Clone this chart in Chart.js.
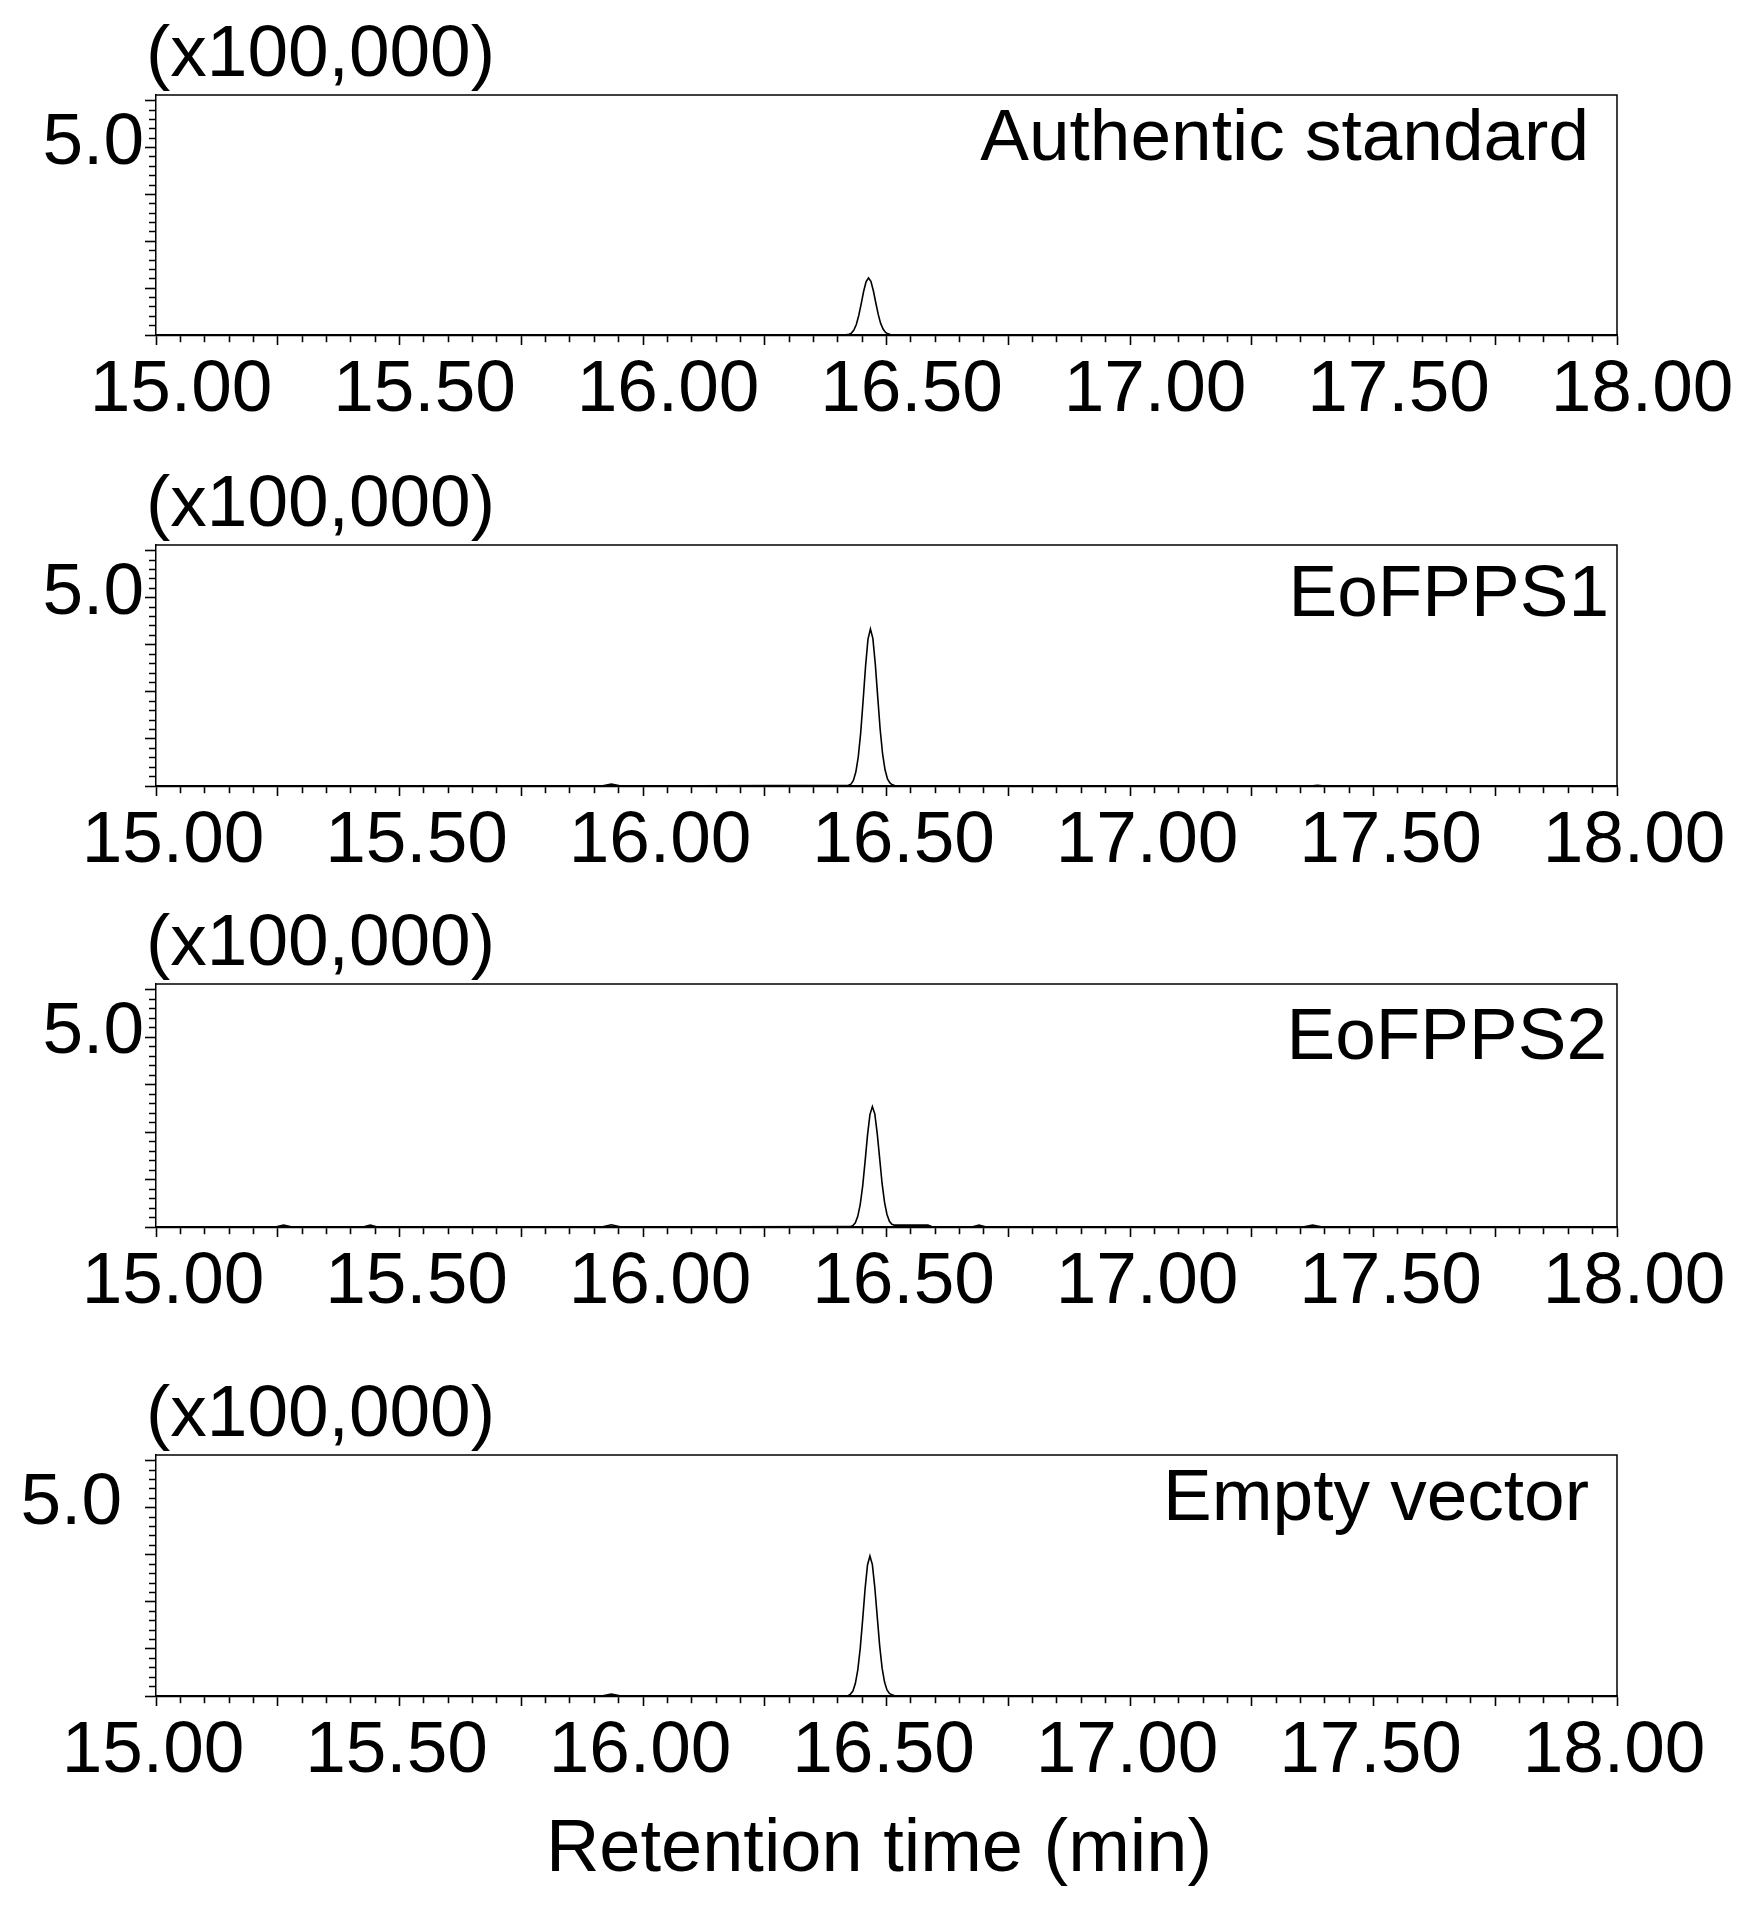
<!DOCTYPE html>
<html>
<head>
<meta charset="utf-8">
<title>Retention time chromatograms</title>
<script src="https://cdn.jsdelivr.net/npm/chart.js@4.4.1/dist/chart.umd.min.js"></script>
<style>
  html, body { margin: 0; padding: 0; background: #fff; }
  body { width: 1753px; height: 1909px; position: relative; overflow: hidden; }
  canvas { position: absolute; left: 0; }
</style>
</head>
<body>
<canvas id="chart1" width="1753" height="440" style="top:0px"></canvas>
<canvas id="chart2" width="1753" height="440" style="top:450px"></canvas>
<canvas id="chart3" width="1753" height="440" style="top:889px"></canvas>
<canvas id="chart4" width="1753" height="549" style="top:1360px"></canvas>
<script>
// values: retention time (min), signal (x100,000)
var sampleNames = ['Authentic standard', 'EoFPPS1', 'EoFPPS2', 'Empty vector'];
var unitLabel = '(x100,000)';
var xTitle = 'Retention time (min)';

var standardTime = [15.00, 16.418, 16.423, 16.428, 16.433, 16.438, 16.443, 16.448, 16.453, 16.458, 16.463,
	16.468, 16.473, 16.478, 16.483, 16.488, 16.493, 16.498, 16.503, 16.508, 16.513, 18.00];
var standardSignal = [0, 0.01, 0.02, 0.05, 0.13, 0.28, 0.52, 0.83, 1.16, 1.42, 1.52,
	1.43, 1.18, 0.86, 0.55, 0.31, 0.16, 0.07, 0.03, 0.01, 0, 0];

var fpps1Time = [15.00, 15.915, 15.935, 15.955,
	16.422, 16.427, 16.432, 16.437, 16.442, 16.447, 16.452, 16.457, 16.462, 16.467,
	16.472, 16.477, 16.482, 16.487, 16.492, 16.497, 16.502, 16.507, 16.512, 16.517,
	17.37, 17.385, 17.40, 18.00];
var fpps1Signal = [0, 0, 0.05, 0,
	0.02, 0.05, 0.15, 0.37, 0.77, 1.41, 2.27, 3.18, 3.90, 4.17,
	3.92, 3.24, 2.36, 1.50, 0.85, 0.43, 0.19, 0.08, 0.03, 0.01,
	0, 0.02, 0, 0];

var fpps2Time = [15.00, 15.245, 15.262, 15.28, 15.425, 15.44, 15.455, 15.915, 15.935, 15.955,
	16.426, 16.431, 16.436, 16.441, 16.446, 16.451, 16.456, 16.461, 16.466, 16.471,
	16.476, 16.481, 16.486, 16.491, 16.496, 16.501, 16.506, 16.511, 16.516, 16.521,
	16.585, 16.595, 16.675, 16.69, 16.705, 17.355, 17.375, 17.395, 18.00];
var fpps2Signal = [0, 0, 0.05, 0, 0, 0.05, 0, 0, 0.06, 0,
	0.01, 0.04, 0.11, 0.28, 0.59, 1.07, 1.72, 2.42, 2.96, 3.17,
	2.98, 2.46, 1.80, 1.14, 0.65, 0.33, 0.15, 0.07, 0.05, 0.05,
	0.05, 0, 0, 0.05, 0, 0, 0.05, 0, 0];

var emptyTime = [15.00, 15.915, 15.935, 15.955,
	16.421, 16.426, 16.431, 16.436, 16.441, 16.446, 16.451, 16.456, 16.461, 16.466,
	16.471, 16.476, 16.481, 16.486, 16.491, 16.496, 16.501, 16.506, 16.511, 16.516,
	18.00];
var emptySignal = [0, 0, 0.05, 0,
	0.01, 0.05, 0.13, 0.33, 0.69, 1.26, 2.02, 2.84, 3.48, 3.72,
	3.49, 2.88, 2.10, 1.33, 0.74, 0.37, 0.16, 0.07, 0.03, 0.01,
	0];

var xMin = 15, xMax = 18, yMax = 6.4;
var yLabelValue = 5;

var fontFamily = '"Liberation Sans", Arial, sans-serif';

function nearMultiple(v, step) {
	var q = v / step;
	return Math.abs(q - Math.round(q)) < 1e-6;
}

// top and right edges of the frame, plus the panel texts
var frameText = {
	id: 'frameText',
	afterDraw: function(chart, args, opts) {
		var c = chart.ctx, a = chart.chartArea;
		c.save();
		c.strokeStyle = '#000';
		c.lineWidth = 1.5;
		c.beginPath();
		c.moveTo(a.left, a.top);
		c.lineTo(a.right, a.top);
		c.lineTo(a.right, a.bottom);
		c.stroke();
		c.fillStyle = '#000';
		c.textBaseline = 'middle';
		c.font = '73px ' + fontFamily;
		c.textAlign = 'left';
		c.fillText(unitLabel, 146, a.top - 39);
		c.textAlign = 'right';
		c.fillText(opts.name, opts.nameRight, opts.nameY);
		if (opts.title) {
			c.font = '74px ' + fontFamily;
			c.textAlign = 'center';
			c.fillText(opts.title, 879, opts.titleY);
		}
		c.restore();
	}
};

var panels = [
	{ id: 'chart1', time: standardTime, signal: standardSignal, name: sampleNames[0], boxH: 240, nameRight: 1589, nameY: 140, xShift: 25, yPad: 1 },
	{ id: 'chart2', time: fpps1Time, signal: fpps1Signal, name: sampleNames[1], boxH: 241, nameRight: 1609, nameY: 146, xShift: 17, yPad: 1 },
	{ id: 'chart3', time: fpps2Time, signal: fpps2Signal, name: sampleNames[2], boxH: 243, nameRight: 1607, nameY: 150, xShift: 17, yPad: 1 },
	{ id: 'chart4', time: emptyTime, signal: emptySignal, name: sampleNames[3], boxH: 241, nameRight: 1589, nameY: 140, xShift: -3, yPad: 23, title: xTitle, titleY: 491 }
];

panels.forEach(function(p) {
	var canvas = document.getElementById(p.id);
	var H = canvas.height;
	var ctx = canvas.getContext('2d');

	new Chart(ctx, {
		type: 'line',
		data: {
			datasets: [{
				label: p.name,
				data: p.time.map(function(t, i) { return { x: t, y: p.signal[i] }; }),
				borderColor: '#000',
				borderWidth: 1.6,
				pointRadius: 0,
				tension: 0,
				fill: false
			}]
		},
		options: {
			responsive: false,
			animation: false,
			events: [],
			layout: { padding: { top: 95, left: 0, right: 136, bottom: 0 } },
			plugins: {
				legend: { display: false },
				tooltip: { enabled: false },
				frameText: { name: p.name, nameRight: p.nameRight, nameY: p.nameY, title: p.title || '', titleY: p.titleY || 0 }
			},
			scales: {
				x: {
					type: 'linear',
					min: xMin,
					max: xMax,
					afterFit: function(s) { s.height = H - 95 - p.boxH; },
					border: { color: '#000', width: 2.2 },
					grid: {
						drawOnChartArea: false,
						tickLength: 10,
						tickWidth: 1.6,
						tickColor: '#000',
						tickBorderDash: function(c) {
							if (!c.tick) return [];
							return nearMultiple(c.tick.value, 0.25) ? [] : [6, 100];
						}
					},
					ticks: {
						stepSize: 0.05,
						autoSkip: false,
						includeBounds: false,
						maxRotation: 0,
						padding: 2,
						labelOffset: p.xShift,
						color: '#000',
						font: { family: fontFamily, size: 73 },
						callback: function(v) { return nearMultiple(v, 0.5) ? v.toFixed(2) : ''; }
					}
				},
				y: {
					min: 0,
					max: yMax,
					afterFit: function(s) { s.width = 156; },
					border: { color: '#000', width: 1.5 },
					grid: {
						drawOnChartArea: false,
						tickLength: 11,
						tickWidth: 1.6,
						tickColor: '#000',
						tickBorderDash: function(c) {
							if (!c.tick) return [];
							return nearMultiple(c.tick.value, 1.25) ? [] : [0, 4, 7, 100];
						}
					},
					ticks: {
						stepSize: 0.25,
						autoSkip: false,
						includeBounds: false,
						padding: p.yPad,
						labelOffset: -4,
						color: '#000',
						font: { family: fontFamily, size: 73 },
						callback: function(v) { return Math.abs(v - yLabelValue) < 1e-6 ? yLabelValue.toFixed(1) : ''; }
					}
				}
			}
		},
		plugins: [frameText]
	});
});
</script>
</body>
</html>
